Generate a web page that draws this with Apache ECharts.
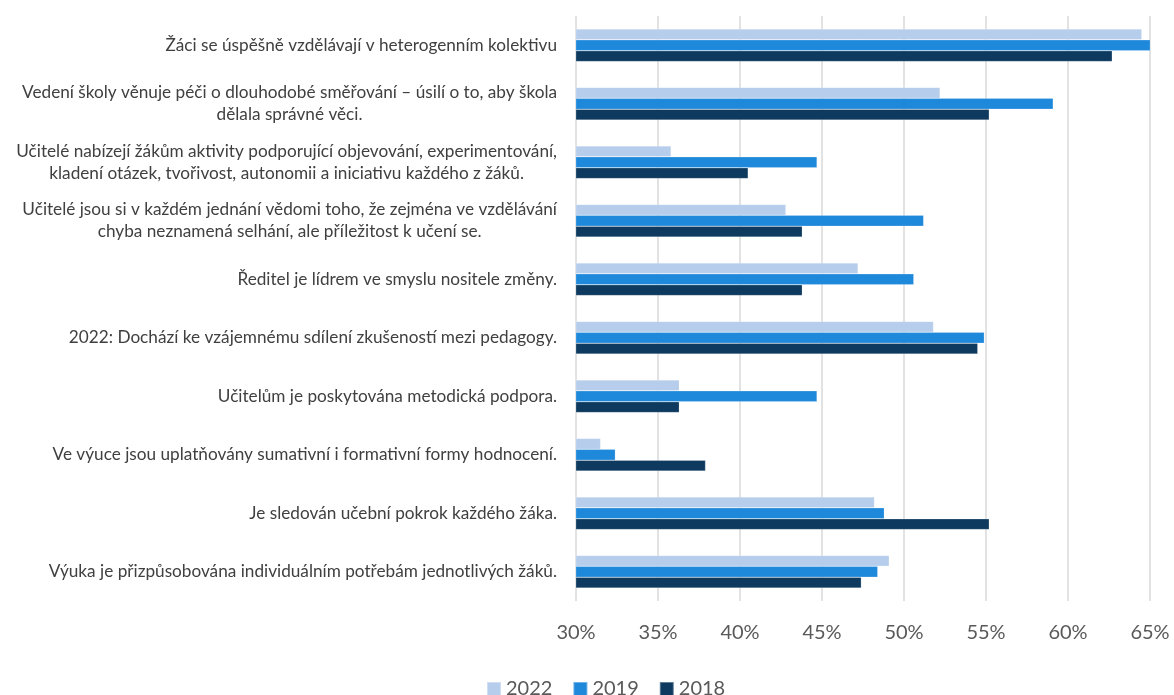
<!DOCTYPE html>
<html>
<head>
<meta charset="utf-8">
<script src="https://cdn.jsdelivr.net/npm/echarts@6/dist/echarts.min.js"></script>
<style>html,body{margin:0;padding:0;background:#fff;}#c{width:1174px;height:695px;}</style>
</head>
<body>
<div id="c"></div>
<script>
const categories = [
  "Žáci se úspěšně vzdělávají v heterogenním kolektivu",
  "Vedení školy věnuje péči o dlouhodobé směřování – úsilí o to, aby škola\ndělala správné věci.",
  "Učitelé nabízejí žákům aktivity podporující objevování, experimentování,\nkladení otázek, tvořivost, autonomii a iniciativu každého z žáků.",
  "Učitelé jsou si v každém jednání vědomi toho, že zejména ve vzdělávání\nchyba neznamená selhání, ale příležitost k učení se.",
  "Ředitel je lídrem ve smyslu nositele změny.",
  "2022: Dochází ke vzájemnému sdílení zkušeností mezi pedagogy.",
  "Učitelům je poskytována metodická podpora.",
  "Ve výuce jsou uplatňovány sumativní i formativní formy hodnocení.",
  "Je sledován učební pokrok každého žáka.",
  "Výuka je přizpůsobována individuálním potřebám jednotlivých žáků."
];
const seriesNames = ["2022", "2019", "2018"];
const values2022 = [64.5, 52.2, 35.8, 42.8, 47.2, 51.8, 36.3, 31.5, 48.2, 49.1];
const values2019 = [65.1, 59.1, 44.7, 51.2, 50.6, 54.9, 44.7, 32.4, 48.8, 48.4];
const values2018 = [62.7, 55.2, 40.5, 43.8, 43.8, 54.5, 36.3, 37.9, 55.2, 47.4];
const xTicks = { min: 30, max: 65, interval: 5 };

const colors = { "2022": "#B6CDEC", "2019": "#1E88DA", "2018": "#0E3A5F" };
const FONT = "Lato";

const chart = echarts.init(document.getElementById('c'), null, { renderer: 'canvas' });
const dataMap = { "2022": values2022, "2019": values2019, "2018": values2018 };

chart.setOption({
  animation: false,
  backgroundColor: '#ffffff',
  textStyle: { fontFamily: FONT },
  grid: { left: 576, right: 24, top: 16, bottom: 94, containLabel: false },
  legend: {
    data: seriesNames,
    left: 481,
    top: 674,
    itemWidth: 14,
    itemHeight: 14,
    itemGap: 20,
    icon: 'rect',
    textStyle: { fontSize: 20, color: '#595959', fontFamily: FONT }
  },
  xAxis: {
    type: 'value',
    min: xTicks.min, max: xTicks.max, interval: xTicks.interval,
    axisLine: { show: false },
    axisTick: { show: false },
    splitLine: { show: true, lineStyle: { color: '#d9d9d9', width: 1.5 } },
    axisLabel: { formatter: '{value}%', fontSize: 20, color: '#595959', margin: 22, fontFamily: FONT }
  },
  yAxis: {
    type: 'category',
    inverse: true,
    data: categories,
    axisLine: { show: false },
    axisTick: { show: false },
    axisLabel: {
      margin: 19,
      align: 'right',
      color: '#404040',
      fontSize: 17.2,
      fontFamily: FONT,
      lineHeight: 22,
      formatter: function (v) {
        return v.split('\n').map(function (l) { return '{c|' + l + '}'; }).join('\n');
      },
      rich: { c: { align: 'center', fontSize: 17.2, lineHeight: 22, color: '#404040', fontFamily: FONT } }
    }
  },
  series: seriesNames.map(function (n) {
    return {
      name: n,
      type: 'bar',
      data: dataMap[n],
      barGap: '0%',
      barCategoryGap: '44%',
      itemStyle: { color: colors[n], borderColor: 'rgba(255,255,255,0.35)', borderWidth: 0.6 }
    };
  })
});
</script>
</body>
</html>
